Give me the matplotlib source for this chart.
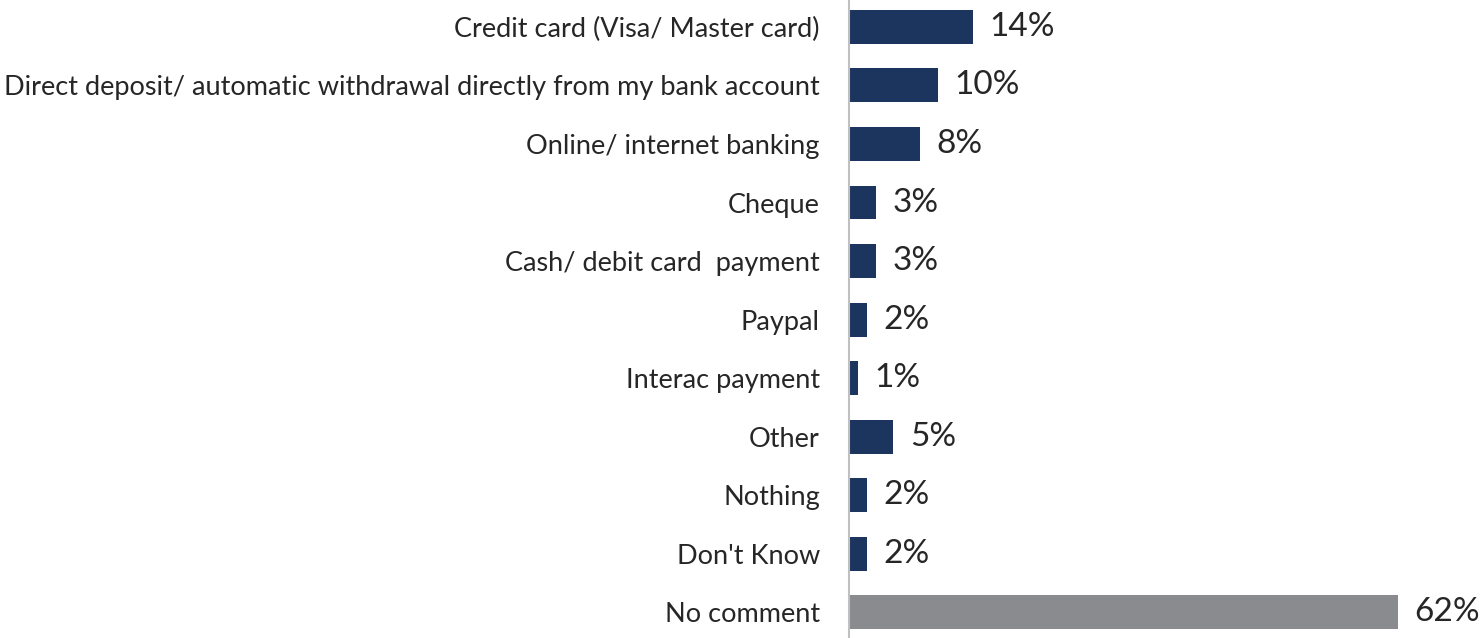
import matplotlib
matplotlib.use("Agg")
import matplotlib.pyplot as plt

categories = ["Credit card (Visa/ Master card)",
              "Direct deposit/ automatic withdrawal directly from my bank account",
              "Online/ internet banking", "Cheque", "Cash/ debit card  payment",
              "Paypal", "Interac payment", "Other", "Nothing", "Don't Know",
              "No comment"]
values = [14, 10, 8, 3, 3, 2, 1, 5, 2, 2, 62]
value_labels = ["14%", "10%", "8%", "3%", "3%", "2%", "1%", "5%", "2%", "2%", "62%"]
colors = ["#1c355e"] * 10 + ["#898b8e"]

plt.rcParams['font.family'] = ['Lato', 'DejaVu Sans']

fig = plt.figure(figsize=(14.83, 6.38), dpi=100)
ax = fig.add_axes([849/1483, 0, 1 - 849/1483, 1])
y = list(range(len(categories)))
ax.barh(y, values, height=0.58, color=colors)
ax.set_ylim(10.44, -0.46)
ax.set_xlim(0, 71.6)
ax.set_yticks(y)
ax.set_yticklabels(categories, fontsize=19.5, color="#262626")
ax.tick_params(axis='y', length=0, pad=21)
ax.set_xticks([])
for s in ["top", "right", "bottom"]:
    ax.spines[s].set_visible(False)
ax.spines["left"].set_color("#c0c0c0")
ax.spines["left"].set_linewidth(1.5)
for yi, v, lab in zip(y, values, value_labels):
    ax.annotate(lab, (v, yi), xytext=(12, 0), textcoords="offset points",
                va="center", ha="left", fontsize=24, color="#262626")
fig.savefig("out.png", dpi=100)
